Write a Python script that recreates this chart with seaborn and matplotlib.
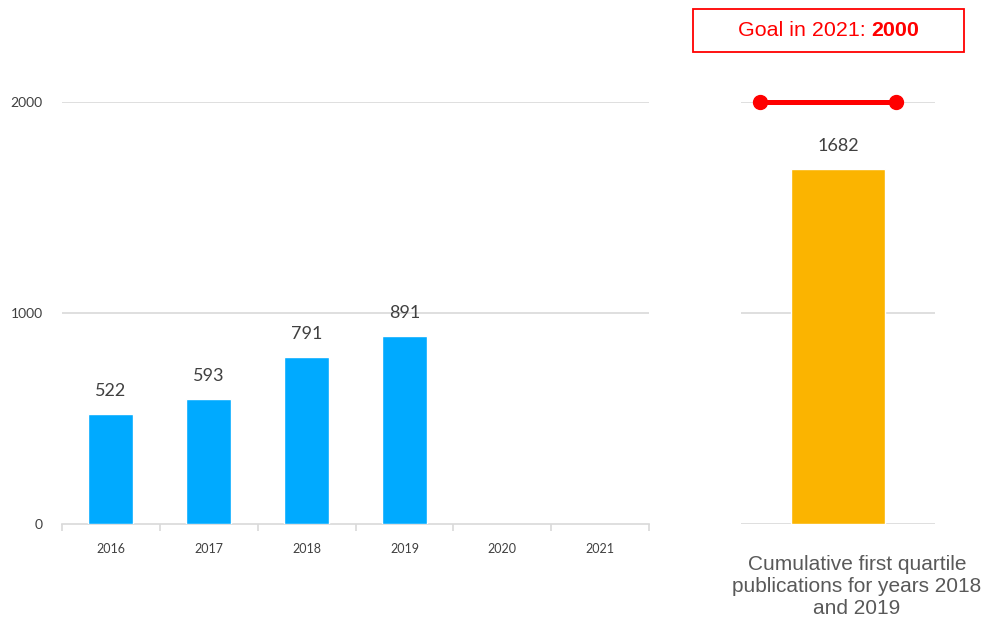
import matplotlib
matplotlib.use("Agg")
import matplotlib.pyplot as plt
import seaborn as sns
import pandas as pd
from matplotlib.patches import Rectangle

# ---- data ----
years = ["2016", "2017", "2018", "2019", "2020", "2021"]
publications = [522, 593, 791, 891, None, None]
cumulative_years = ["2018", "2019"]
goal_value = 2000
goal_year = "2021"
y_ticks = [0, 1000, 2000]

df = pd.DataFrame({"year": years, "value": publications}).dropna()
cum_value = int(sum(v for y, v in zip(years, publications) if y in cumulative_years))
df_cum = pd.DataFrame({"cat": ["cum"], "value": [cum_value]})

sns.set_theme(style="white")
plt.rcParams["font.family"] = ["Lato", "DejaVu Sans"]

W, H = 988, 618
fig = plt.figure(figsize=(W / 100, H / 100), dpi=100)

grid_c = "#D9D9D9"
txt_c = "#404040"

# ---- left axes ----
ax = fig.add_axes([62 / W, 1 - 524 / H, (649 - 62) / W, (524 - 102) / H])
sns.barplot(data=df, x="year", y="value", order=years, color="#00AAFF",
            saturation=1, width=0.46, ax=ax, zorder=3)
ax.set_ylim(0, 2000)
ax.set_xlim(-0.5, len(years) - 0.5)
ax.set_yticks(y_ticks)
for v in y_ticks[1:]:
    ax.axhline(v, color=grid_c, lw=1.2, zorder=1)
for s in ["top", "right", "left"]:
    ax.spines[s].set_visible(False)
ax.spines["bottom"].set_color(grid_c)
ax.spines["bottom"].set_linewidth(1.2)
ax.set_xlabel("")
ax.set_ylabel("")
ax.tick_params(axis="y", left=False, length=0, pad=14, labelsize=10, labelcolor=txt_c)
ax.set_xticks([i - 0.5 for i in range(len(years) + 1)], minor=False)
ax.set_xticklabels([""] * (len(years) + 1))
ax.tick_params(axis="x", which="major", bottom=True, length=5, width=1.2,
               color=grid_c, direction="out")
ax.set_xticks(range(len(years)), minor=True)
ax.set_xticklabels(years, minor=True)
ax.tick_params(axis="x", which="minor", bottom=True, length=0, pad=14,
               labelsize=9, labelcolor=txt_c)
for c in ax.containers:
    labels = ax.bar_label(c, padding=11, fontsize=13, color=txt_c)
    for t in labels:
        t.set_clip_on(False)

# ---- right axes ----
ax2 = fig.add_axes([741 / W, 1 - 524 / H, (935 - 741) / W, (524 - 102) / H])
sns.barplot(data=df_cum, x="cat", y="value", color="#FBB400", saturation=1,
            width=0.485, ax=ax2, zorder=3)
ax2.set_ylim(0, 2000)
ax2.set_xlim(-0.5, 0.5)
for v in y_ticks:
    ax2.axhline(v, color=grid_c, lw=1.2, zorder=1)
for s in ax2.spines.values():
    s.set_visible(False)
ax2.set_xticks([])
ax2.set_yticks([])
ax2.set_xlabel("")
ax2.set_ylabel("")
for c in ax2.containers:
    ax2.bar_label(c, padding=11, fontsize=13, color=txt_c)
ax2.plot([-0.402, 0.299], [goal_value, goal_value], color="#FF0000", lw=3.6,
         marker="o", markersize=10, zorder=5, clip_on=False, solid_capstyle="butt")

# goal box
fig.patches.append(Rectangle((693 / W, 1 - 52 / H), (964 - 693) / W, (52 - 9) / H,
                             transform=fig.transFigure, fill=False, edgecolor="#FF0000", lw=1.3))
t1 = fig.text(738 / W, 1 - 30.5 / H, f"Goal in {goal_year}: ", color="#FF0000",
              fontsize=15.4, family=["Liberation Sans", "DejaVu Sans"], va="center", ha="left")
fig.canvas.draw()
bb = t1.get_window_extent()
fig.text(bb.x1 / W, 1 - 30.5 / H, f"{goal_value}", color="#FF0000", fontsize=15.4,
         weight="bold", family=["Liberation Sans", "DejaVu Sans"], va="center", ha="left")

# bottom caption
fig.text(857 / W, 1 - 586 / H,
         f"Cumulative first quartile\npublications for years {cumulative_years[0]}\nand {cumulative_years[1]}",
         ha="center", va="center", fontsize=15, color="#595959", linespacing=1.2,
         family=["Liberation Sans", "DejaVu Sans"])

fig.savefig("out.png", dpi=100, facecolor="white")
